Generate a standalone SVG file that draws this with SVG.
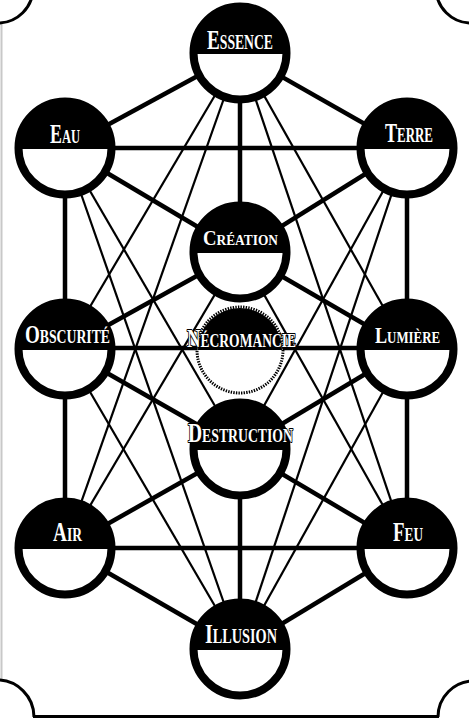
<svg xmlns="http://www.w3.org/2000/svg" xmlns:xlink="http://www.w3.org/1999/xlink" width="469" height="719" viewBox="0 0 469 719">
<style>
.thick{stroke:#000;stroke-width:4.5;fill:none}
.thin{stroke:#000;stroke-width:2.2;fill:none}
.frame{stroke:#000;stroke-width:3;fill:none}
.lbl{font-family:"Liberation Serif","DejaVu Serif",serif;font-variant:small-caps;font-weight:bold;fill:#fff}
.out{stroke:#000;stroke-width:2;paint-order:stroke;stroke-linejoin:round}
</style>
<defs>
<g id="disc">
<circle r="46.5" fill="#fff" stroke="#000" stroke-width="8"/>
<path d="M-46.5,1 A46.5,46.5 0 0 1 46.5,1 Z" fill="#000"/>
</g>
</defs>
<rect width="469" height="719" fill="#fff"/>
<g id="frame">
<line x1="1.5" y1="23" x2="1.5" y2="680" stroke="#c8c8c8" stroke-width="2"/>
<path class="frame" d="M-2,23 A35,35 0 0 0 33,-12"/>
<path class="frame" d="M436,-12 A35,35 0 0 0 471,23"/>
<path class="frame" d="M-3,680 A37,37 0 0 1 34,717"/>
<path class="frame" d="M438,717 A36,36 0 0 1 474,681"/>
<line class="frame" x1="33" y1="716.5" x2="439" y2="716.5"/>
</g>
<g id="connectors">
<line class="thick" x1="240" y1="53" x2="65" y2="148"/>
<line class="thick" x1="240" y1="53" x2="407" y2="148"/>
<line class="thick" x1="240" y1="53" x2="240" y2="252"/>
<line class="thick" x1="65" y1="148" x2="407" y2="148"/>
<line class="thick" x1="65" y1="148" x2="240" y2="252"/>
<line class="thick" x1="407" y1="148" x2="240" y2="252"/>
<line class="thick" x1="65" y1="148" x2="65" y2="349"/>
<line class="thick" x1="407" y1="148" x2="407" y2="349"/>
<line class="thick" x1="240" y1="252" x2="65" y2="349"/>
<line class="thick" x1="240" y1="252" x2="407" y2="349"/>
<line class="thick" x1="65" y1="348" x2="407" y2="348"/>
<line class="thick" x1="65" y1="349" x2="240" y2="449"/>
<line class="thick" x1="407" y1="349" x2="240" y2="449"/>
<line class="thick" x1="65" y1="349" x2="65" y2="548"/>
<line class="thick" x1="407" y1="349" x2="407" y2="548"/>
<line class="thick" x1="240" y1="449" x2="65" y2="548"/>
<line class="thick" x1="240" y1="449" x2="407" y2="548"/>
<line class="thick" x1="65" y1="548" x2="407" y2="548"/>
<line class="thick" x1="65" y1="548" x2="240" y2="649"/>
<line class="thick" x1="407" y1="548" x2="240" y2="649"/>
<line class="thick" x1="240" y1="449" x2="240" y2="649"/>
<line class="thin" x1="240" y1="53" x2="65" y2="349"/>
<line class="thin" x1="240" y1="53" x2="65" y2="548"/>
<line class="thin" x1="240" y1="53" x2="407" y2="349"/>
<line class="thin" x1="240" y1="53" x2="407" y2="548"/>
<line class="thin" x1="240" y1="649" x2="65" y2="148"/>
<line class="thin" x1="240" y1="649" x2="65" y2="349"/>
<line class="thin" x1="240" y1="649" x2="407" y2="148"/>
<line class="thin" x1="240" y1="649" x2="407" y2="349"/>
<line class="thin" x1="65" y1="148" x2="240" y2="449"/>
<line class="thin" x1="407" y1="148" x2="240" y2="449"/>
<line class="thin" x1="65" y1="548" x2="240" y2="252"/>
<line class="thin" x1="407" y1="548" x2="240" y2="252"/>
</g>
<g id="essence"><use xlink:href="#disc" x="240" y="53"/><text class="lbl" x="207" y="49" font-size="28" textLength="66" lengthAdjust="spacingAndGlyphs">Essence</text></g>
<g id="eau"><use xlink:href="#disc" x="65" y="148"/><text class="lbl" x="50" y="143" font-size="27" textLength="30" lengthAdjust="spacingAndGlyphs">Eau</text></g>
<g id="terre"><use xlink:href="#disc" x="407" y="148"/><text class="lbl" x="385" y="142" font-size="28" textLength="48" lengthAdjust="spacingAndGlyphs">Terre</text></g>
<g id="creation"><use xlink:href="#disc" x="240" y="252"/><text class="lbl" x="203" y="245" font-size="21" textLength="75" lengthAdjust="spacingAndGlyphs">Création</text></g>
<g id="obscurite"><use xlink:href="#disc" x="65" y="349"/><text class="lbl" x="25" y="343" font-size="25" textLength="85" lengthAdjust="spacingAndGlyphs">Obscurité</text></g>
<g id="lumiere"><use xlink:href="#disc" x="407" y="349"/><text class="lbl" x="375" y="343" font-size="24" textLength="65" lengthAdjust="spacingAndGlyphs">Lumière</text></g>
<g id="necromancie">
<circle cx="240" cy="350" r="43" fill="#fff" stroke="#000" stroke-width="3" stroke-dasharray="1.4 1.2"/>
<path d="M198,350 A42,42 0 0 1 282,350 Z" fill="#000"/>
<text class="lbl out" x="187" y="347" font-size="25" textLength="109" lengthAdjust="spacingAndGlyphs">Nécromancie</text>
</g>
<g id="destruction"><use xlink:href="#disc" x="240" y="449"/><text class="lbl out" x="188" y="442" font-size="27" textLength="105" lengthAdjust="spacingAndGlyphs">Destruction</text></g>
<g id="air"><use xlink:href="#disc" x="65" y="548"/><text class="lbl" x="53" y="541" font-size="27" textLength="29" lengthAdjust="spacingAndGlyphs">Air</text></g>
<g id="feu"><use xlink:href="#disc" x="407" y="548"/><text class="lbl" x="393" y="541" font-size="27" textLength="30" lengthAdjust="spacingAndGlyphs">Feu</text></g>
<g id="illusion"><use xlink:href="#disc" x="240" y="649"/><text class="lbl" x="205" y="643" font-size="28" textLength="72" lengthAdjust="spacingAndGlyphs">Illusion</text></g>
</svg>
